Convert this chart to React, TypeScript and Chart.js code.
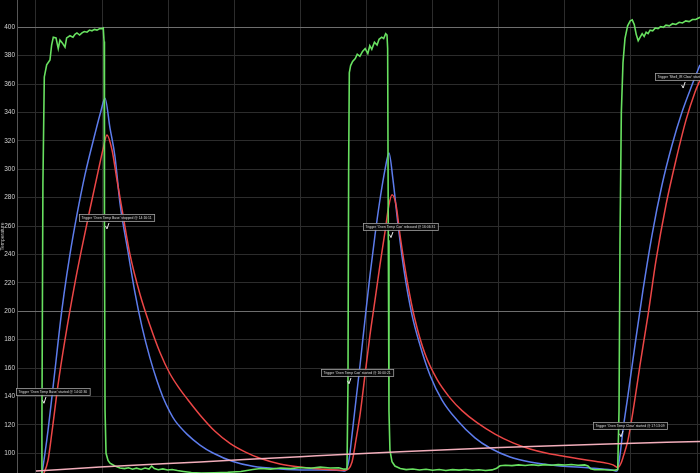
import React, { useEffect, useRef } from 'react';
import { Chart, registerables } from 'chart.js';

Chart.register(...registerables);

type P = [number, number];

// axis range (minutes, °F)
const xMin = -2.87;
const xMax = 100.45;
const yMin = 86.1;
const yMax = 419.2;

const yTickValues = [100, 120, 140, 160, 180, 200, 220, 240, 260, 280, 300, 320, 340, 360, 380, 400];
const yMajorValues = [200, 400];
const xGridValues = [0, 10, 20, 30, 40, 50, 60, 70, 80, 90, 100];

const ovenTemp: P[] = [
  [0.8, 84], [0.9, 120], [1.05, 290], [1.26, 365], [1.62, 373.5], [2.12, 377], [2.37, 387.5], [2.62, 393],
  [3.03, 392.5], [3.37, 385], [3.63, 391], [3.98, 389], [4.39, 386], [4.64, 392.5], [5.14, 394], [5.6, 393],
  [5.9, 395], [6.2, 396], [6.6, 394.5], [6.96, 396], [7.3, 397], [7.72, 396.5], [8.1, 398], [8.47, 397.5],
  [8.85, 398.5], [9.23, 398], [9.6, 399], [9.98, 399], [10.18, 399.5], [10.3, 390], [10.36, 250], [10.45, 130],
  [10.6, 100], [10.9, 95], [11.2, 93], [11.95, 91], [12.7, 89.6], [13.4, 89.2], [14.0, 89.8], [14.6, 88.8],
  [15.2, 89.5], [15.9, 88.6], [16.5, 89.6], [17.1, 88.9], [17.5, 91], [17.9, 89.2], [18.5, 88.4], [19.2, 89],
  [19.9, 88.2], [20.6, 88.6], [21.4, 87.8], [22.3, 87.2], [23.5, 86.5], [25, 86], [27, 86.3], [29, 86.6],
  [31, 87.2], [32.8, 88.6], [34, 89.3], [35.5, 88.8], [37, 89.6], [38.5, 89.2], [40, 90], [41.5, 89.5],
  [43, 90.2], [44.5, 89.6], [45.8, 89.8], [46.6, 88.8], [47.05, 89], [47.2, 150], [47.3, 300], [47.4, 368],
  [47.6, 373], [47.9, 376], [48.3, 378], [48.6, 381], [49.0, 379.5], [49.4, 383], [49.8, 385], [50.2, 381.5],
  [50.5, 387], [50.8, 384.5], [51.2, 389.5], [51.6, 387.5], [51.9, 391.5], [52.3, 393], [52.6, 392], [52.9, 395.5],
  [53.1, 394.5], [53.2, 385], [53.3, 250], [53.4, 130], [53.55, 102], [53.86, 94], [54.3, 91], [55.1, 89.3],
  [56, 88.5], [57, 88.9], [58, 88.2], [59, 88.7], [60, 88], [61, 88.6], [62, 87.9], [63, 88.5], [64, 88.1],
  [65, 88.6], [66, 88], [67, 88.4], [68, 87.9], [69, 88.3], [69.7, 89.5], [70.2, 91.2], [71, 91.6], [72, 91.3],
  [73, 91.8], [74, 91.4], [75, 91.9], [76, 91.5], [77, 92], [78, 91.6], [79, 92], [80, 91.7], [81, 92.1],
  [82, 91.6], [83, 91.8], [83.5, 91], [83.9, 89], [84.5, 88.4], [85.5, 88.6], [86.5, 88.2], [87.5, 88.0],
  [88.0, 88.5], [88.2, 130], [88.35, 250], [88.55, 340], [88.8, 375], [89.1, 392], [89.5, 401], [89.9, 404.5],
  [90.2, 405.2], [90.5, 402], [90.8, 395], [91.1, 390.5], [91.4, 393], [91.7, 395.5], [92.0, 393.5], [92.3, 396.5],
  [92.6, 395.5], [92.9, 398], [93.3, 397.5], [93.7, 399.5], [94.1, 399], [94.5, 400.5], [94.9, 400], [95.3, 401.5],
  [95.8, 401], [96.3, 402.5], [96.8, 402], [97.3, 403.5], [97.8, 403], [98.3, 404.5], [98.8, 404], [99.3, 405.5],
  [99.8, 405.5], [100.45, 407],
];

const shellTempA: P[] = [
  [0.6, 83], [0.91, 86.5], [1.36, 100], [1.82, 116], [2.42, 140], [3.03, 165], [3.63, 190], [4.24, 212],
  [5.14, 240], [6.2, 268], [7.41, 296], [8.93, 325], [9.83, 341], [10.44, 350], [11.2, 329], [11.95, 309],
  [12.71, 276], [13.92, 242], [14.98, 213], [16.04, 189], [17.25, 167], [18.31, 151], [19.21, 139.5],
  [20.27, 129], [21.03, 123], [22.84, 113.5], [24.81, 105.8], [26.78, 100.2], [29.8, 94.2], [32.83, 90.8],
  [36.91, 89], [41.45, 88.2], [45.99, 87.9], [46.75, 87.5],
  [47.35, 95.3], [47.81, 113], [48.41, 137.5], [49.02, 162], [49.77, 194], [50.53, 225.5], [51.29, 253.7],
  [52.04, 278.7], [52.8, 299.8], [53.4, 311.5], [54.01, 292.5], [54.77, 261], [55.67, 229], [56.88, 197.5],
  [58.09, 176.3], [59.61, 155], [61.42, 137.5], [63.69, 123.4], [66.41, 110.8], [68.68, 103.7], [71.71, 97.4],
  [74.74, 93.9], [79.27, 91.1], [83.81, 89.7], [87.14, 88.2], [87.9, 87.5],
  [88.35, 98.8], [88.8, 116.4], [89.56, 141], [90.62, 176.3], [91.83, 215], [93.19, 253.7], [94.7, 288.9],
  [96.22, 317.1], [97.73, 340.3], [99.24, 359.3], [100.45, 373.5],
];

const shellTempB: P[] = [
  [0.76, 83], [1.21, 86.1], [1.82, 95], [2.42, 115], [3.33, 148], [4.39, 180], [5.9, 220], [6.96, 245],
  [8.17, 272], [9.38, 298], [10.14, 314], [10.74, 324.2], [11.5, 313.6], [12.25, 292.5],
  [13.16, 267.8], [14.22, 240], [15.73, 212], [17.25, 190], [18.76, 171], [20.27, 156], [21.79, 145],
  [22.84, 138.5], [24.81, 127], [27.08, 115.5], [29.35, 107], [31.62, 101], [33.89, 96.5], [36.91, 92.5],
  [39.94, 90.3], [42.97, 89], [46.75, 88],
  [47.81, 93.9], [48.41, 109.4], [49.02, 127], [49.77, 155], [50.53, 183.4], [51.29, 208], [52.04, 232.7],
  [52.8, 256], [53.4, 275], [53.86, 282], [54.46, 275], [55.07, 253.7], [56.13, 222], [57.34, 194],
  [58.85, 170], [60.67, 152], [62.63, 139], [64.45, 130], [66.72, 121.5], [69.44, 113.5], [72.16, 107.3],
  [74.74, 103], [77.31, 100], [80.03, 97.8], [82.3, 96], [85.33, 93.8], [87.29, 91.8], [88.05, 90],
  [88.5, 93], [88.8, 97], [89.56, 109.4], [90.47, 134], [91.38, 162.2], [92.59, 197.5], [93.8, 236],
  [95.31, 275], [96.82, 306.6], [98.34, 334.8], [99.7, 354.4], [100.45, 362.9],
];

const ambientTemp: P[] = [
  [0, 87.5], [9.68, 90.3], [24.81, 93.9], [39.94, 97.6], [55.07, 101.1], [70.2, 104.0], [85.33, 106.4], [100.45, 108.3],
];

const noteTimes = [1.21, 10.74, 47.35, 53.7, 88.5, 97.9];
const noteValues = [135.2, 258, 148.9, 251.9, 111.6, 357.2];
const noteTexts = [
  "Trigger 'Oven Temp Base' started @ 14:02:30",
  "Trigger 'Oven Temp Base' stopped @ 14:16:11",
  "Trigger 'Oven Temp Can' started @ 16:00:21",
  "Trigger 'Oven Temp Can' released @ 16:06:31",
  "Trigger 'Oven Temp Clear' started @ 17:13:09",
  "Trigger 'Shell_IR Clear' started @ 17:18:42",
];

const toXY = (arr: P[]) => arr.map(([x, y]) => ({ x, y }));

const notesPlugin = {
  id: 'triggerNotes',
  afterDatasetsDraw(chart: any) {
    const ctx = chart.ctx as CanvasRenderingContext2D;
    const xs = chart.scales.x;
    const ys = chart.scales.y;
    ctx.save();
    ctx.font = '3.4px "Liberation Sans", Arial, sans-serif';
    ctx.textBaseline = 'middle';
    for (let i = 0; i < noteTimes.length; i++) {
      const ax = xs.getPixelForValue(noteTimes[i]);
      const ay = ys.getPixelForValue(noteValues[i]);
      const w = ctx.measureText(noteTexts[i]).width + 5;
      const h = 7;
      const left = Math.round(ax - 28);
      const bottom = Math.round(ay - 8);
      const top = bottom - h;
      ctx.fillStyle = 'rgba(10,10,10,0.92)';
      ctx.fillRect(left, top, w, h);
      ctx.strokeStyle = '#a0a0a0';
      ctx.lineWidth = 0.8;
      ctx.strokeRect(left + 0.5, top + 0.5, w, h);
      ctx.fillStyle = '#dcdcdc';
      ctx.fillText(noteTexts[i], left + 2.5, top + h / 2 + 0.5);
      ctx.strokeStyle = '#e8e8e8';
      ctx.lineWidth = 1;
      ctx.beginPath();
      ctx.moveTo(ax + 2, bottom + 2);
      ctx.lineTo(ax, ay);
      ctx.lineTo(ax - 1.5, ay - 3);
      ctx.stroke();
    }
    ctx.restore();
  },
};

export default function App() {
  const canvasRef = useRef<HTMLCanvasElement | null>(null);

  useEffect(() => {
    if (!canvasRef.current) return;
    const chart = new Chart(canvasRef.current, {
      type: 'line',
      data: {
        datasets: [
          {
            label: 'Oven',
            data: toXY(ovenTemp),
            borderColor: '#68e060',
            borderWidth: 1.6,
            pointRadius: 0,
            tension: 0,
            order: 1,
          },
          {
            label: 'Shell A',
            data: toXY(shellTempA),
            borderColor: '#5d7cec',
            borderWidth: 1.5,
            pointRadius: 0,
            cubicInterpolationMode: 'monotone',
            order: 3,
          },
          {
            label: 'Shell B',
            data: toXY(shellTempB),
            borderColor: '#ec4646',
            borderWidth: 1.5,
            pointRadius: 0,
            cubicInterpolationMode: 'monotone',
            order: 2,
          },
          {
            label: 'Ambient',
            data: toXY(ambientTemp),
            borderColor: '#f2aebb',
            borderWidth: 1.5,
            pointRadius: 0,
            cubicInterpolationMode: 'monotone',
            order: 0,
          },
        ],
      },
      options: {
        animation: false,
        responsive: true,
        maintainAspectRatio: false,
        layout: { padding: 0 },
        plugins: { legend: { display: false }, tooltip: { enabled: false } },
        scales: {
          x: {
            type: 'linear',
            min: xMin,
            max: xMax,
            afterBuildTicks: (s: any) => {
              s.ticks = xGridValues.map((v) => ({ value: v }));
            },
            afterFit: (s: any) => {
              s.height = 0;
              s.paddingLeft = 0;
              s.paddingRight = 0;
            },
            ticks: { display: false },
            grid: { color: '#2c2c2c', lineWidth: 1, drawTicks: false },
            border: { display: false },
          },
          y: {
            type: 'linear',
            min: yMin,
            max: yMax,
            afterBuildTicks: (s: any) => {
              s.ticks = yTickValues.map((v) => ({ value: v }));
            },
            afterFit: (s: any) => {
              s.width = 17;
              s.paddingTop = 0;
              s.paddingBottom = 0;
            },
            ticks: {
              color: '#d2d2d2',
              padding: 2,
              font: { size: 6.5, family: '"Liberation Sans", Arial, sans-serif' },
            },
            title: {
              display: true,
              text: 'Temperature',
              color: '#bbbbbb',
              padding: 0,
              font: { size: 5, family: '"Liberation Sans", Arial, sans-serif' },
            },
            grid: {
              drawTicks: false,
              lineWidth: 1,
              color: (c: any) => (c.tick && yMajorValues.includes(c.tick.value) ? '#6e6e6e' : '#2c2c2c'),
            },
            border: { display: true, color: '#555555', width: 1 },
          },
        },
      },
      plugins: [notesPlugin],
    } as any);
    return () => chart.destroy();
  }, []);

  return (
    <div style={{ position: 'fixed', left: 0, top: 0, width: 700, height: 473, background: '#000' }}>
      <canvas ref={canvasRef} />
    </div>
  );
}
